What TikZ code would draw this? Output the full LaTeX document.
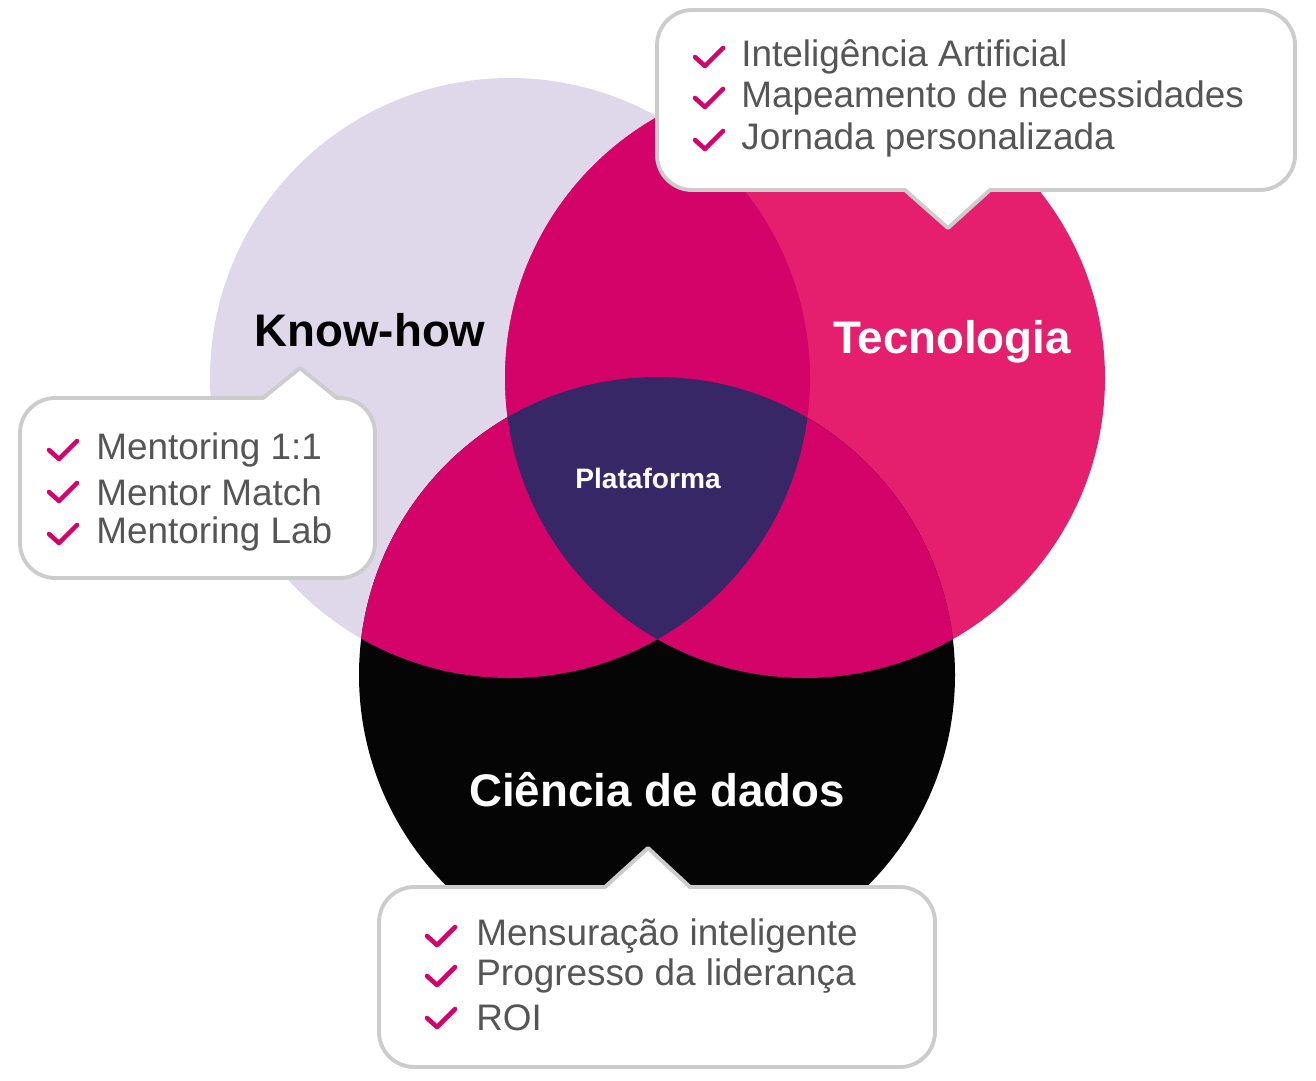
\documentclass[tikz,border=0pt]{standalone}
\usepackage{fontspec}
\setmainfont{Liberation Sans}
\usetikzlibrary{positioning}
\definecolor{lavender}{HTML}{DFD8EA}
\definecolor{techpink}{HTML}{E61E6E}
\definecolor{overlap}{HTML}{D4036A}
\definecolor{core}{HTML}{372766}
\definecolor{datablack}{HTML}{050505}
\definecolor{boxgray}{HTML}{CCCCCC}
\definecolor{itemgray}{HTML}{555555}
\tikzset{
  callout/.style={draw=boxgray,line width=2.2pt,fill=white,line join=round},
  item/.style={anchor=west,text=itemgray,font=\fontsize{21}{24}\selectfont,inner sep=0pt},
  chk/.style={draw=overlap,line width=2.6pt,line cap=round,line join=round},
  biglabel/.style={font=\bfseries\fontsize{26}{30}\selectfont}
}
\newcommand{\tick}[1]{\draw[chk] ($(#1)+(-15,0)$) -- ($(#1)+(-5,9)$) -- ($(#1)+(13,-9)$);}
\usetikzlibrary{calc}
\begin{document}
\begin{tikzpicture}[x=0.02cm,y=-0.02cm]
      \useasboundingbox (0,0) rectangle (1316,1080);
      % circles
      \fill[lavender] (510,378) circle (300);
      \fill[techpink] (805,378) circle (300);
      \fill[datablack] (657,675) circle (298);
      % overlaps
      \begin{scope}
        \clip (510,378) circle (300);
        \fill[overlap] (805,378) circle (300);
        \fill[overlap] (657,675) circle (298);
      \end{scope}
      \begin{scope}
        \clip (805,378) circle (300);
        \fill[overlap] (657,675) circle (298);
      \end{scope}
      \begin{scope}
        \clip (510,378) circle (300);
        \clip (805,378) circle (300);
        \fill[core] (657,675) circle (298);
      \end{scope}
      % labels
      \node[biglabel,text=black] (knowhow) at (370,330) {Know-how};
      \node[biglabel,text=white] (tecnologia) at (952,342) {Tecnologia};
      \node[font=\bfseries\fontsize{16}{18}\selectfont,text=white] (plataforma) at (648,478) {Plataforma};
      \node[biglabel,text=white] (ciencia) at (657,790) {Ciência de dados};
      % callout tecnologia
      \draw[callout] (905,190) [rounded corners=20]-- (657,190) -- (657,10) -- (1295,10) -- (1295,190) [sharp corners]-- (990,190) -- (948,228) -- cycle;
      \coordinate (t1) at (710,57); \coordinate (t2) at (710,98); \coordinate (t3) at (710,140);
      \tick{t1} \tick{t2} \tick{t3}
      \node[item] (ia) at (741,57) {Inteligência Artificial};
      \node[item] (mapa) at (741,98) {Mapeamento de necessidades};
      \node[item] (jornada) at (741,140) {Jornada personalizada};
      % callout know-how
      \draw[callout] (337,398) [rounded corners=20]-- (375,398) -- (375,578) -- (20,578) -- (20,398) [sharp corners]-- (263,398) -- (300,368) -- cycle;
      \coordinate (k1) at (64,450); \coordinate (k2) at (64,492); \coordinate (k3) at (64,534);
      \tick{k1} \tick{k2} \tick{k3}
      \node[item] (mentoring) at (96,450) {Mentoring 1:1};
      \node[item] (match) at (96,492) {Mentor Match};
      \node[item] (lab) at (96,534) {Mentoring Lab};
      % callout dados
      \draw[callout] (690,887) [rounded corners=20]-- (935,887) -- (935,1067) -- (379,1067) -- (379,887) [sharp corners]-- (605,887) -- (648,848) -- cycle;
      \coordinate (d1) at (442,936); \coordinate (d2) at (442,976); \coordinate (d3) at (442,1018);
      \tick{d1} \tick{d2} \tick{d3}
      \node[item] (mensura) at (476,936) {Mensuração inteligente};
      \node[item] (progresso) at (476,976) {Progresso da liderança};
      \node[item] (roi) at (476,1018) {ROI};
\end{tikzpicture}
\end{document}
